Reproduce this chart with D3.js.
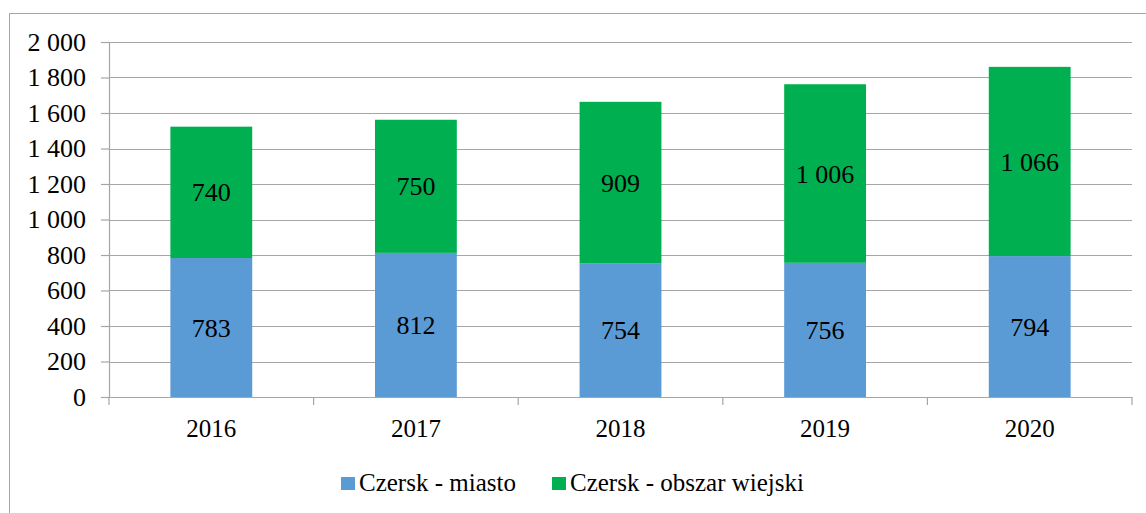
<!DOCTYPE html>
<html>
<head>
<meta charset="utf-8">
<script src="https://cdn.jsdelivr.net/npm/d3@7"></script>
<style>
  body { margin: 0; background: #fff; }
  svg text { font-family: "Liberation Serif", Tinos, "Times New Roman", Times, "DejaVu Serif", serif !important; fill: #000; }
</style>
</head>
<body>
<div id="chart"></div>
<script>
// chart data
const years = ["2016", "2017", "2018", "2019", "2020"];
const miasto = [783, 812, 754, 756, 794];
const wies = [740, 750, 909, 1006, 1066];
const seriesNames = ["Czersk - miasto", "Czersk - obszar wiejski"];
const seriesColors = ["#5b9bd5", "#00b050"];
const yTicks = [0, 200, 400, 600, 800, 1000, 1200, 1400, 1600, 1800, 2000];

const W = 1146, H = 513;
const margin = { top: 42, right: 14, bottom: 116, left: 109 };
const width = W - margin.left - margin.right,
      height = H - margin.top - margin.bottom;
const serif = '"Liberation Serif", Tinos, "Times New Roman", Times, "DejaVu Serif", serif';

const fmt = v => d3.format(",")(v).replace(/,/g, " ");

const svg = d3.select("#chart").append("svg")
    .attr("width", W)
    .attr("height", H)
    .style("font-family", serif);

// outer frame
svg.append("rect")
    .attr("x", 9.5).attr("y", 13.5)
    .attr("width", W).attr("height", H)
    .attr("fill", "none")
    .attr("stroke", "#a6a6a6");

const g = svg.append("g").attr("transform", `translate(${margin.left},${margin.top})`);

const x = d3.scaleBand().domain(years).range([0, width]).paddingInner(0.6).paddingOuter(0.3);
const y = d3.scaleLinear().domain([0, 2000]).range([height, 0]);

// gridlines
g.append("g")
  .selectAll("line")
  .data(yTicks.filter(d => d > 0))
  .enter().append("line")
    .attr("x1", 0).attr("x2", width)
    .attr("y1", d => Math.round(y(d)) + 0.5)
    .attr("y2", d => Math.round(y(d)) + 0.5)
    .attr("stroke", "#a6a6a6")
    .attr("stroke-width", 1.2);

// stacked bars
const table = years.map((yr, i) => ({ year: yr, a: miasto[i], b: wies[i] }));
const stacked = d3.stack().keys(["a", "b"])(table);

const layers = g.append("g")
  .selectAll("g")
  .data(stacked)
  .enter().append("g")
    .attr("fill", (d, i) => seriesColors[i]);

layers.selectAll("rect")
  .data(d => d)
  .enter().append("rect")
    .attr("x", d => x(d.data.year))
    .attr("y", d => y(d[1]))
    .attr("width", x.bandwidth())
    .attr("height", d => y(d[0]) - y(d[1]));

layers.selectAll("text")
  .data(d => d)
  .enter().append("text")
    .attr("x", d => x(d.data.year) + x.bandwidth() / 2)
    .attr("y", d => (y(d[0]) + y(d[1])) / 2)
    .attr("dy", "0.35em")
    .attr("text-anchor", "middle")
    .style("font-size", "26px")
    .text(d => fmt(d[1] - d[0]));

// y axis
const yAxis = g.append("g")
    .call(d3.axisLeft(y).tickValues(yTicks).tickSize(8).tickSizeOuter(0).tickFormat(fmt));
yAxis.attr("font-family", null);
yAxis.select(".domain").attr("stroke", "#a6a6a6").attr("stroke-width", 1.2);
yAxis.selectAll(".tick line").attr("stroke", "#a6a6a6").attr("stroke-width", 1.2);
yAxis.selectAll(".tick text")
    .attr("x", -23)
    .style("font-size", "26px");

// x axis
const bounds = d3.range(years.length + 1).map(i => i * width / years.length);
const xAxis = g.append("g").attr("transform", `translate(0,${height})`);
xAxis.append("line")
    .attr("x1", 0).attr("x2", width)
    .attr("y1", 0.5).attr("y2", 0.5)
    .attr("stroke", "#a6a6a6").attr("stroke-width", 1.2);
xAxis.selectAll(".bt")
  .data(bounds)
  .enter().append("line")
    .attr("class", "bt")
    .attr("x1", d => d).attr("x2", d => d)
    .attr("y1", 0).attr("y2", 8)
    .attr("stroke", "#a6a6a6").attr("stroke-width", 1.2);
xAxis.selectAll("text")
  .data(years)
  .enter().append("text")
    .attr("x", d => x(d) + x.bandwidth() / 2)
    .attr("y", 40)
    .attr("text-anchor", "middle")
    .style("font-size", "25px")
    .text(d => d);

// legend
const legendPos = [341, 552];
const legend = svg.append("g");
seriesNames.forEach((name, i) => {
  legend.append("rect")
    .attr("x", legendPos[i]).attr("y", 477)
    .attr("width", 14).attr("height", 13)
    .attr("fill", seriesColors[i]);
  legend.append("text")
    .attr("x", legendPos[i] + 18).attr("y", 491)
    .style("font-size", "25px")
    .text(name);
});
</script>
</body>
</html>
